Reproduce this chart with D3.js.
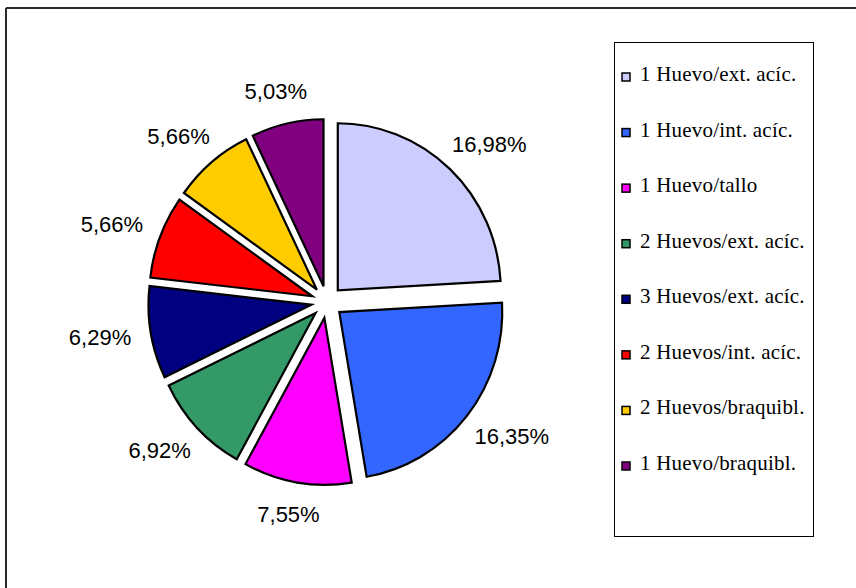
<!DOCTYPE html>
<html>
<head>
<meta charset="utf-8">
<script src="https://cdn.jsdelivr.net/npm/d3@7/dist/d3.min.js"></script>
<style>
  html, body { margin: 0; padding: 0; background: #fff; }
  svg { display: block; }
</style>
</head>
<body>
<svg id="chart" width="856" height="588"></svg>
<script>
// Distribution of egg-laying sites (percentages)
const categories = [
  "1 Huevo/ext. acíc.",
  "1 Huevo/int. acíc.",
  "1 Huevo/tallo",
  "2 Huevos/ext. acíc.",
  "3 Huevos/ext. acíc.",
  "2 Huevos/int. acíc.",
  "2 Huevos/braquibl.",
  "1 Huevo/braquibl."
];
const shares = [16.98, 16.35, 7.55, 6.92, 6.29, 5.66, 5.66, 5.03];
const colors = ["#CCCCFF", "#3366FF", "#FF00FF", "#339966", "#000080", "#FF0000", "#FFCC00", "#800080"];

const svg = d3.select("#chart");
const W = 856, H = 588;

// Outer frame (top and left edges)
svg.append("line").attr("x1", 6).attr("y1", 8).attr("x2", W).attr("y2", 8)
  .attr("stroke", "#2a2a2a").attr("stroke-width", 2);
svg.append("line").attr("x1", 6).attr("y1", 8).attr("x2", 6).attr("y2", H)
  .attr("stroke", "#2a2a2a").attr("stroke-width", 2);

// Pie geometry
const cx = 327, cy = 302;
const R = 163;        // horizontal radius
const ky = 1.025;     // slight vertical stretch
const explode = 15.7; // offset of each slice from the centre
const labelR = 199;

const pie = d3.pie().sort(null).value(d => d);
const arcs = pie(shares);
const arc = d3.arc().innerRadius(0).outerRadius(R);

const gPie = svg.append("g");
arcs.forEach((a, i) => {
  const mid = (a.startAngle + a.endAngle) / 2;
  const ox = cx + explode * Math.sin(mid);
  const oy = cy - explode * Math.cos(mid) * ky;
  gPie.append("path")
    .attr("d", arc(a))
    .attr("transform", `translate(${ox},${oy}) scale(1,${ky})`)
    .attr("fill", colors[i])
    .attr("stroke", "#000")
    .attr("stroke-width", 2.2)
    .attr("stroke-linejoin", "miter")
    .attr("vector-effect", "non-scaling-stroke");
});

// Percentage labels outside each slice
const fmt = v => d3.format(".2f")(v).replace(".", ",") + "%";
const labelFont = 22;
arcs.forEach((a, i) => {
  const mid = (a.startAngle + a.endAngle) / 2;
  const s = Math.sin(mid), c = Math.cos(mid);
  const t = svg.append("text")
    .attr("font-family", "'Liberation Sans', Arial, sans-serif")
    .attr("font-size", labelFont)
    .attr("fill", "#000")
    .attr("text-anchor", "middle")
    .text(fmt(shares[i]));
  const w = t.node().getComputedTextLength();
  const ax = cx + labelR * s;
  const ay = cy - labelR * c * ky;
  const bx = ax + s * w / 2;
  const by = ay - c * 12;
  t.attr("x", bx).attr("y", by + labelFont * 0.33);
});

// Legend
const lx = 614, ly = 42, lw = 199, lh = 494;
const legend = svg.append("g");
legend.append("rect")
  .attr("x", lx + 0.5).attr("y", ly + 0.5)
  .attr("width", lw).attr("height", lh)
  .attr("fill", "#fff").attr("stroke", "#000").attr("stroke-width", 1);

const rowY = d3.scalePoint().domain(categories).range([81, 470]);
categories.forEach((name, i) => {
  const y = rowY(name);
  legend.append("rect")
    .attr("x", 622).attr("y", y - 8)
    .attr("width", 8).attr("height", 8)
    .attr("fill", colors[i]).attr("stroke", "#000").attr("stroke-width", 1.5);
  legend.append("text")
    .attr("x", 640).attr("y", y)
    .attr("font-family", "'Liberation Serif', 'Times New Roman', serif")
    .attr("font-size", 21)
    .attr("letter-spacing", 0.2)
    .attr("fill", "#000")
    .text(name);
});
</script>
</body>
</html>
